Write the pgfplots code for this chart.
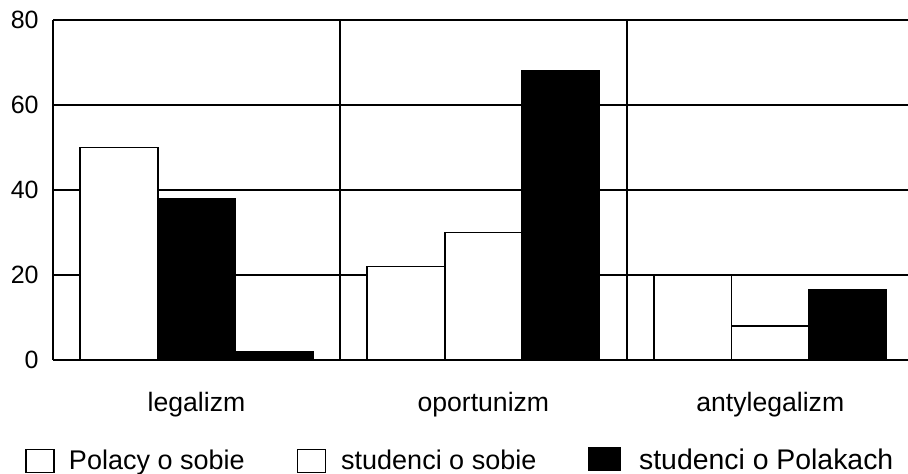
\documentclass[border=0pt]{standalone}
\usepackage{fontspec}
\setmainfont{Liberation Sans}
\usepackage{pgfplots}
\pgfplotsset{compat=1.18}

\begin{document}
\begin{tikzpicture}
\useasboundingbox (-26.5pt,-57pt) rectangle (427.5pt,180pt);
\begin{axis}[
    at={(0,0)}, anchor=south west,
    scale only axis,
    width=427.5pt, height=170pt,
    xmin=-0.5, xmax=2.48,
    ymin=0, ymax=80,
    axis x line*=bottom, axis y line*=left,
    ytick={0,20,40,60,80},
    xtick={0,1,2},
    xticklabels={legalizm, oportunizm, antylegalizm},
    major tick length=0pt,
    ymajorgrids,
    grid style={line width=0.7pt, black},
    extra x ticks={0.5,1.5},
    extra x tick labels={},
    extra x tick style={grid=major, major grid style={line width=0.7pt, black}},
    axis line style={line width=0.9pt, -},
    /pgf/number format/assume math mode=true,
    yticklabel={\pgfmathprintnumber{\tick}\kern7pt},
    yticklabel style={font=\fontsize{12.5}{14}\selectfont, inner sep=0pt, anchor=east},
    xticklabel style={font=\fontsize{13.3}{16}\selectfont, anchor=base, inner sep=0pt, yshift=-26pt},
    ybar, bar width=0.27,
    legend columns=3,
    legend style={at={(rel axis cs:0,0)}, anchor=west, xshift=-14pt, yshift=-50pt,
        draw=none, fill=none, inner sep=0pt,
        nodes={inner sep=0pt},
        font=\fontsize{13.5}{16}\selectfont,
        /tikz/every even column/.append style={column sep=26pt}},
    legend cell align=left,
]
\addplot[draw=black, line width=0.9pt, fill=white, bar shift=-0.27,
    legend image code/.code={\draw[line width=0.7pt,fill=white] (0pt,-5.75pt) rectangle (14pt,5.75pt); \path (21pt,0pt);}]
    coordinates {(0,50) (1,22) (2,20)};
\addlegendentry{Polacy o sobie}
\addplot[draw=black, line width=0.9pt, fill=white, bar shift=0,
    legend image code/.code={\draw[line width=0.7pt,fill=white] (0pt,-5.75pt) rectangle (14pt,5.75pt); \path (21.5pt,0pt);}]
    coordinates {(1,30) (2,8)};
\addlegendentry{studenci o sobie}
\addplot[draw=black, line width=0.9pt, fill=black, bar shift=0.27,
    legend image code/.code={\fill[black] (0pt,-4.5pt) rectangle (15.5pt,6.5pt); \path (24.5pt,0pt);}]
    coordinates {(0,2) (1,68) (2,16.5)};
\addlegendentry{\fontsize{14.2}{16}\selectfont studenci o Polakach}
% middle bar of legalizm is black in the source
\addplot[draw=black, line width=0.9pt, fill=black, bar shift=0, forget plot]
    coordinates {(0,38)};
\end{axis}
\end{tikzpicture}
\end{document}
